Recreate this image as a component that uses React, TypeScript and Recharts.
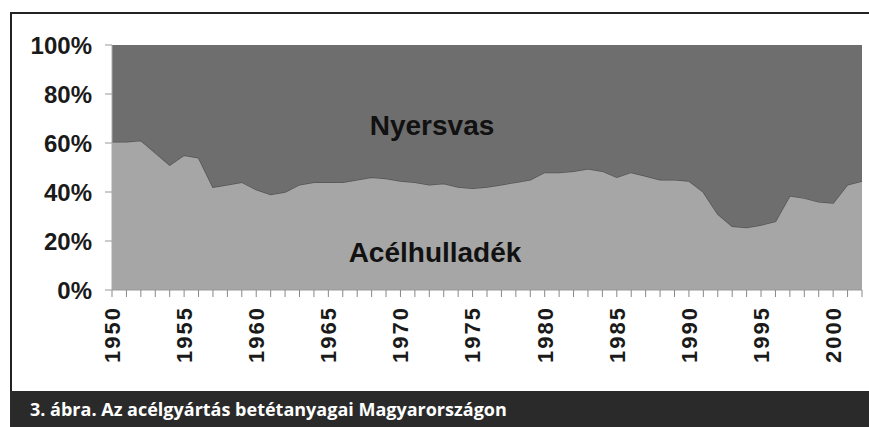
import React from 'react';
import { AreaChart, Area, XAxis, YAxis } from 'recharts';

const years = [
  '1950', '1951', '1952', '1953', '1954', '1955', '1956', '1957', '1958', '1959',
  '1960', '1961', '1962', '1963', '1964', '1965', '1966', '1967', '1968', '1969',
  '1970', '1971', '1972', '1973', '1974', '1975', '1976', '1977', '1978', '1979',
  '1980', '1981', '1982', '1983', '1984', '1985', '1986', '1987', '1988', '1989',
  '1990', '1991', '1992', '1993', '1994', '1995', '1996', '1997', '1998', '1999',
  '2000', '2001', '2002',
];

// Acélhulladék (scrap) share, %
const scrapPct = [
  60.5, 60.5, 61, 56, 51, 55, 54, 42, 43, 44,
  41, 39, 40, 43, 44, 44, 44, 45, 46, 45.5,
  44.5, 44, 43, 43.5, 42, 41.5, 42, 43, 44, 45,
  48, 48, 48.5, 49.5, 48.5, 46, 48, 46.5, 45, 45,
  44.5, 40, 31, 26, 25.5, 26.5, 28, 38.5, 37.5, 36,
  35.5, 43, 44.5,
];

const seriesNames = ['Acélhulladék', 'Nyersvas'];
const yTicks = [0, 20, 40, 60, 80, 100];
const caption = '3. ábra. Az acélgyártás betétanyagai Magyarországon';

const data = years.map((y, i) => ({
  year: y,
  scrap: scrapPct[i],
  pig: 100 - scrapPct[i],
}));

const FONT = '"Liberation Sans", Arial, sans-serif';

const XTick = (props: any) => {
  const { x, y, payload } = props;
  const yr = Number(payload.value);
  if (yr % 5 !== 0) return <g />;
  const y0 = y + 9;
  return (
    <text
      x={x}
      y={y0}
      transform={`rotate(-90 ${x} ${y0})`}
      textAnchor="end"
      dy="0.36em"
      fill="#1a1a1a"
      fontSize={22}
      fontWeight="bold"
      textLength={55}
      lengthAdjust="spacing"
      fontFamily={FONT}
    >
      {payload.value}
    </text>
  );
};

export default function App() {
  return (
    <div style={{ position: 'absolute', left: 0, top: 0, width: 869, height: 427, background: '#fff', overflow: 'hidden' }}>
      <div
        style={{
          position: 'absolute',
          left: 10,
          top: 12,
          width: 857,
          height: 379,
          borderLeft: '2px solid #222',
          borderTop: '2px solid #222',
        }}
      />
      <div style={{ position: 'absolute', left: 0, top: 0 }}>
        <AreaChart
          width={869}
          height={427}
          data={data}
          margin={{ top: 45, right: 7, left: 0, bottom: 57 }}
        >
          <XAxis
            dataKey="year"
            interval={0}
            tick={<XTick />}
            tickSize={7}
            height={80}
            axisLine={{ stroke: '#999' }}
            tickLine={{ stroke: '#888' }}
          />
          <YAxis
            type="number"
            domain={[0, 100]}
            ticks={yTicks}
            width={112}
            tickSize={7}
            tickMargin={13}
            tickFormatter={(v: number) => `${v}%`}
            axisLine={{ stroke: '#aaa' }}
            tickLine={{ stroke: '#999' }}
            tick={{ fill: '#1a1a1a', fontSize: 24, fontWeight: 'bold', fontFamily: FONT }}
          />
          <Area
            type="linear"
            dataKey="scrap"
            name={seriesNames[0]}
            stackId="a"
            fill="#a6a6a6"
            fillOpacity={1}
            stroke="#555"
            strokeWidth={1.5}
            isAnimationActive={false}
          />
          <Area
            type="linear"
            dataKey="pig"
            name={seriesNames[1]}
            stackId="a"
            fill="#6e6e6e"
            fillOpacity={1}
            stroke="none"
            isAnimationActive={false}
          />
        </AreaChart>
      </div>
      <div
        style={{
          position: 'absolute',
          left: 432,
          top: 126,
          transform: 'translate(-50%, -50%)',
          fontFamily: FONT,
          fontWeight: 'bold',
          fontSize: 28,
          color: '#111',
          whiteSpace: 'nowrap',
        }}
      >
        {seriesNames[1]}
      </div>
      <div
        style={{
          position: 'absolute',
          left: 435,
          top: 253,
          transform: 'translate(-50%, -50%)',
          fontFamily: FONT,
          fontWeight: 'bold',
          fontSize: 28,
          color: '#111',
          whiteSpace: 'nowrap',
        }}
      >
        {seriesNames[0]}
      </div>
      <div
        style={{
          position: 'absolute',
          left: 10,
          top: 391,
          width: 859,
          height: 36,
          background: '#2a2a2a',
          color: '#fff',
          fontFamily: '"Open Sans", sans-serif',
          fontWeight: 700,
          fontSize: 18,
          lineHeight: '36px',
          paddingLeft: 20,
          boxSizing: 'border-box',
          whiteSpace: 'nowrap',
        }}
      >
        {caption}
      </div>
    </div>
  );
}
